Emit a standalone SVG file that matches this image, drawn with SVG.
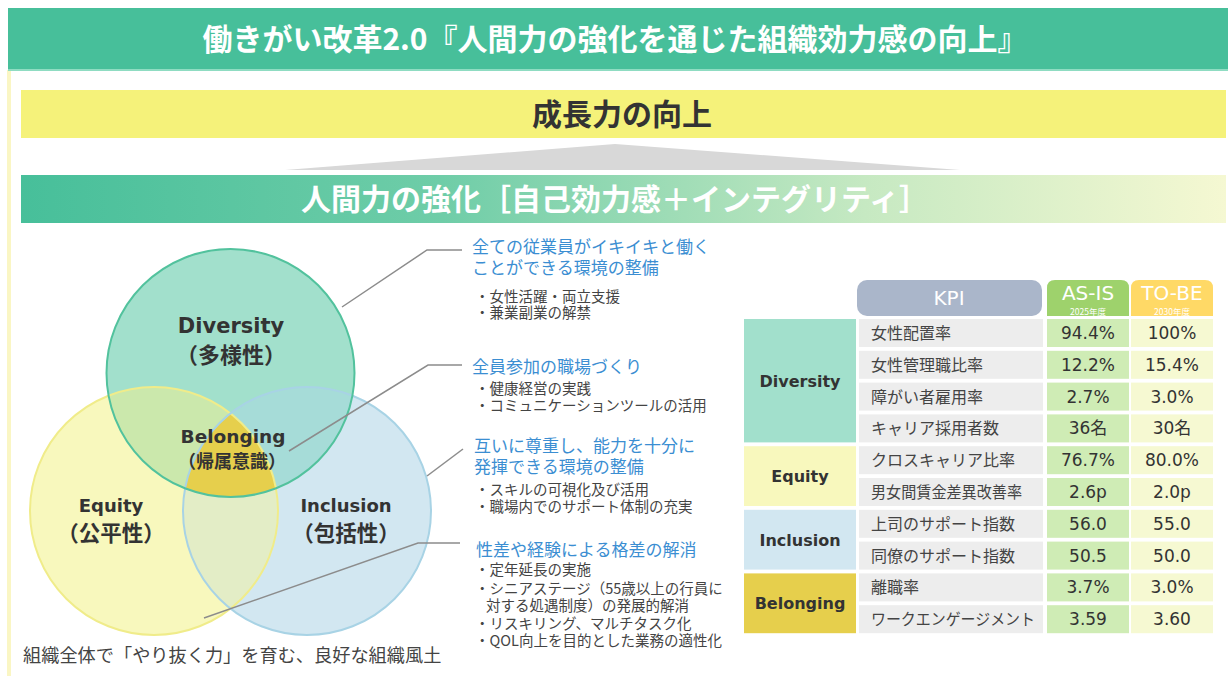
<svg xmlns="http://www.w3.org/2000/svg" width="1228" height="676" viewBox="0 0 1228 676">
<defs>
<linearGradient id="bandGrad" x1="0" y1="0" x2="1" y2="0">
<stop offset="0" stop-color="#47BF9A"/>
<stop offset="0.35" stop-color="#6FCDA8"/>
<stop offset="0.7" stop-color="#C6E9C2"/>
<stop offset="1" stop-color="#F5F8D2"/>
</linearGradient>
<style>
.jp{font-family:"Noto Sans CJK JP","Noto Sans",sans-serif}
.lat{font-family:"DejaVu Sans","Noto Sans CJK JP",sans-serif}
.title{font-size:30px;font-weight:bold;fill:#fff}
.head{font-size:17px;fill:#3B8ED2}
.bul{font-size:14.5px;fill:#444}
.lead{fill:none;stroke:#8C8C8C;stroke-width:1.5}
.vl{font-weight:bold;fill:#333}
.kl{font-size:16px;fill:#444}
.kv{font-size:17px;fill:#333;text-anchor:middle}
.gl{font-size:16px;font-weight:bold;fill:#333;text-anchor:middle}
.kc{fill:#EDEDED}
.ac{fill:#CFECB5}
.tc{fill:#F6F9D2}
</style>
</defs>
<rect width="1228" height="676" fill="#fff"/>
<rect x="7" y="70" width="4" height="606" fill="#FAF6C4"/>

<g id="header">
<rect x="8" y="8" width="1220" height="62" fill="#47BF9A"/>
<rect x="8" y="69" width="1220" height="2" fill="#8FDCC2"/>
<text class="jp title" x="615" y="50" text-anchor="middle">働きがい改革2.0『人間力の強化を通じた組織効力感の向上』</text>
</g>

<g id="growth">
<rect x="21" y="90" width="1205" height="48" fill="#F5F27A"/>
<text class="jp" x="622" y="125" text-anchor="middle" font-size="30" font-weight="bold" fill="#333">成長力の向上</text>
</g>

<g id="arrow">
<polygon points="285,170 615,144 960,170" fill="#D8D8D8"/>
</g>

<g id="human">
<rect x="21" y="175" width="1205" height="48" fill="url(#bandGrad)"/>
<text class="jp title" x="615" y="210" text-anchor="middle">人間力の強化［自己効力感＋インテグリティ］</text>
</g>

<g id="venn">
<circle cx="154" cy="511" r="124" fill="#F8F8BD"/>
<circle cx="307" cy="511" r="124" fill="#D2E7F1"/>
<circle cx="230.5" cy="373" r="124" fill="#A2E0CC"/>
<path d="M108.6 395.6 A124 124 0 0 1 275.9 488.4 A124 124 0 0 1 108.6 395.6 Z" fill="#CBE8AC"/>
<path d="M352.4 395.6 A124 124 0 0 0 185.1 488.4 A124 124 0 0 0 352.4 395.6 Z" fill="#A6DCD8"/>
<path d="M230.5 413.4 A124 124 0 0 1 230.5 608.6 A124 124 0 0 1 230.5 413.4 Z" fill="#E3EDC6"/>
<path d="M230.5 413.4 A124 124 0 0 1 275.9 488.4 A124 124 0 0 1 185.1 488.4 A124 124 0 0 1 230.5 413.4 Z" fill="#E6CF4C"/>
<circle cx="154" cy="511" r="124" fill="none" stroke="#F0EC8A" stroke-width="2"/>
<circle cx="307" cy="511" r="124" fill="none" stroke="#A8D3E5" stroke-width="2"/>
<circle cx="230.5" cy="373" r="124" fill="none" stroke="#52C29D" stroke-width="2"/>
</g>

<g id="diversity">
<text class="lat vl" x="231" y="333" text-anchor="middle" font-size="21">Diversity</text>
<text class="jp vl" x="231" y="363" text-anchor="middle" font-size="22">（多様性）</text>
</g>
<g id="belonging">
<text class="lat vl" x="233" y="443" text-anchor="middle" font-size="18.5">Belonging</text>
<text class="jp vl" x="232" y="468" text-anchor="middle" font-size="18">（帰属意識）</text>
</g>
<g id="equity">
<text class="lat vl" x="111" y="512" text-anchor="middle" font-size="18">Equity</text>
<text class="jp vl" x="111" y="541" text-anchor="middle" font-size="21.5">（公平性）</text>
</g>
<g id="inclusion">
<text class="lat vl" x="346" y="512" text-anchor="middle" font-size="18">Inclusion</text>
<text class="jp vl" x="346" y="541" text-anchor="middle" font-size="21.5">（包括性）</text>
</g>
<g id="culture">
<text class="jp" x="23" y="662" font-size="18.2" fill="#444">組織全体で「やり抜く力」を育む、良好な組織風土</text>
</g>

<g id="connectors">
<polyline class="lead" points="342,307 427,250 462,250"/>
<polyline class="lead" points="289,451 428,365 462,365"/>
<polyline class="lead" points="427,476 463,449"/>
<polyline class="lead" points="204,618 418,543 460,543"/>
</g>

<g id="note1">
<text class="jp head" x="472" y="253">全ての従業員がイキイキと働く</text>
<text class="jp head" x="472" y="274">ことができる環境の整備</text>
<text class="jp bul" x="475" y="302">・女性活躍・両立支援</text>
<text class="jp bul" x="475" y="318">・兼業副業の解禁</text>
</g>
<g id="note2">
<text class="jp head" x="472" y="373">全員参加の職場づくり</text>
<text class="jp bul" x="475" y="394">・健康経営の実践</text>
<text class="jp bul" x="475" y="411">・コミュニケーションツールの活用</text>
</g>
<g id="note3">
<text class="jp head" x="474" y="452">互いに尊重し、能力を十分に</text>
<text class="jp head" x="474" y="473">発揮できる環境の整備</text>
<text class="jp bul" x="475" y="495">・スキルの可視化及び活用</text>
<text class="jp bul" x="475" y="512">・職場内でのサポート体制の充実</text>
</g>
<g id="note4">
<text class="jp head" x="476" y="556">性差や経験による格差の解消</text>
<text class="jp bul" x="475" y="575">・定年延長の実施</text>
<text class="jp bul" x="475" y="594">・シニアステージ（55歳以上の行員に</text>
<text class="jp bul" x="486" y="611">対する処遇制度）の発展的解消</text>
<text class="jp bul" x="475" y="629">・リスキリング、マルチタスク化</text>
<text class="jp bul" x="475" y="646">・QOL向上を目的とした業務の適性化</text>
</g>

<g id="kpi-header">
<rect x="857" y="280" width="185" height="36" rx="10" fill="#AAB6CA"/>
<text class="lat" x="949" y="305" text-anchor="middle" font-size="20" fill="#fff">KPI</text>
<path d="M1047 288 Q1047 280 1055 280 L1121 280 Q1129 280 1129 288 L1129 316 L1047 316 Z" fill="#9ED26C"/>
<text class="lat" x="1088" y="300" text-anchor="middle" font-size="20" fill="#fff">AS-IS</text>
<text class="jp" x="1088" y="314.5" text-anchor="middle" font-size="8.5" fill="#fff">2025年度</text>
<path d="M1131 288 Q1131 280 1139 280 L1205 280 Q1213 280 1213 288 L1213 316 L1131 316 Z" fill="#FFD966"/>
<text class="lat" x="1172" y="300" text-anchor="middle" font-size="20" fill="#fff">TO-BE</text>
<text class="jp" x="1172" y="314.5" text-anchor="middle" font-size="8.5" fill="#fff">2030年度</text>
</g>

<g id="kpi-diversity">
<rect x="744" y="319" width="112" height="123.4" fill="#A2E0CC"/>
<text class="lat gl" x="800" y="387">Diversity</text>
<rect class="kc" x="859" y="319" width="184" height="28"/><text class="jp kl" x="871" y="339">女性配置率</text>
<rect class="ac" x="1047" y="319" width="82" height="28"/><text class="lat kv" x="1088" y="339">94.4%</text>
<rect class="tc" x="1131" y="319" width="82" height="28"/><text class="lat kv" x="1172" y="339">100%</text>
<rect class="kc" x="859" y="350.8" width="184" height="28"/><text class="jp kl" x="871" y="370.8">女性管理職比率</text>
<rect class="ac" x="1047" y="350.8" width="82" height="28"/><text class="lat kv" x="1088" y="370.8">12.2%</text>
<rect class="tc" x="1131" y="350.8" width="82" height="28"/><text class="lat kv" x="1172" y="370.8">15.4%</text>
<rect class="kc" x="859" y="382.6" width="184" height="28"/><text class="jp kl" x="871" y="402.6">障がい者雇用率</text>
<rect class="ac" x="1047" y="382.6" width="82" height="28"/><text class="lat kv" x="1088" y="402.6">2.7%</text>
<rect class="tc" x="1131" y="382.6" width="82" height="28"/><text class="lat kv" x="1172" y="402.6">3.0%</text>
<rect class="kc" x="859" y="414.4" width="184" height="28"/><text class="jp kl" x="871" y="434.4">キャリア採用者数</text>
<rect class="ac" x="1047" y="414.4" width="82" height="28"/><text class="lat kv" x="1088" y="434.4">36名</text>
<rect class="tc" x="1131" y="414.4" width="82" height="28"/><text class="lat kv" x="1172" y="434.4">30名</text>
</g>

<g id="kpi-equity">
<rect x="744" y="446.2" width="112" height="59.8" fill="#F8F8BD"/>
<text class="lat gl" x="800" y="482">Equity</text>
<rect class="kc" x="859" y="446.2" width="184" height="28"/><text class="jp kl" x="871" y="466.2">クロスキャリア比率</text>
<rect class="ac" x="1047" y="446.2" width="82" height="28"/><text class="lat kv" x="1088" y="466.2">76.7%</text>
<rect class="tc" x="1131" y="446.2" width="82" height="28"/><text class="lat kv" x="1172" y="466.2">80.0%</text>
<rect class="kc" x="859" y="478" width="184" height="28"/><text class="jp kl" x="871" y="498" textLength="151" lengthAdjust="spacingAndGlyphs">男女間賃金差異改善率</text>
<rect class="ac" x="1047" y="478" width="82" height="28"/><text class="lat kv" x="1088" y="498">2.6p</text>
<rect class="tc" x="1131" y="478" width="82" height="28"/><text class="lat kv" x="1172" y="498">2.0p</text>
</g>

<g id="kpi-inclusion">
<rect x="744" y="509.8" width="112" height="59.8" fill="#D2E7F1"/>
<text class="lat gl" x="800" y="546">Inclusion</text>
<rect class="kc" x="859" y="509.8" width="184" height="28"/><text class="jp kl" x="871" y="529.8">上司のサポート指数</text>
<rect class="ac" x="1047" y="509.8" width="82" height="28"/><text class="lat kv" x="1088" y="529.8">56.0</text>
<rect class="tc" x="1131" y="509.8" width="82" height="28"/><text class="lat kv" x="1172" y="529.8">55.0</text>
<rect class="kc" x="859" y="541.6" width="184" height="28"/><text class="jp kl" x="871" y="561.6">同僚のサポート指数</text>
<rect class="ac" x="1047" y="541.6" width="82" height="28"/><text class="lat kv" x="1088" y="561.6">50.5</text>
<rect class="tc" x="1131" y="541.6" width="82" height="28"/><text class="lat kv" x="1172" y="561.6">50.0</text>
</g>

<g id="kpi-belonging">
<rect x="744" y="573.4" width="112" height="59.8" fill="#E6CF4C"/>
<text class="lat gl" x="800" y="609">Belonging</text>
<rect class="kc" x="859" y="573.4" width="184" height="28"/><text class="jp kl" x="871" y="593.4">離職率</text>
<rect class="ac" x="1047" y="573.4" width="82" height="28"/><text class="lat kv" x="1088" y="593.4">3.7%</text>
<rect class="tc" x="1131" y="573.4" width="82" height="28"/><text class="lat kv" x="1172" y="593.4">3.0%</text>
<rect class="kc" x="859" y="605.2" width="184" height="28"/><text class="jp kl" x="871" y="625.2" textLength="164" lengthAdjust="spacingAndGlyphs">ワークエンゲージメント</text>
<rect class="ac" x="1047" y="605.2" width="82" height="28"/><text class="lat kv" x="1088" y="625.2">3.59</text>
<rect class="tc" x="1131" y="605.2" width="82" height="28"/><text class="lat kv" x="1172" y="625.2">3.60</text>
</g>
</svg>
